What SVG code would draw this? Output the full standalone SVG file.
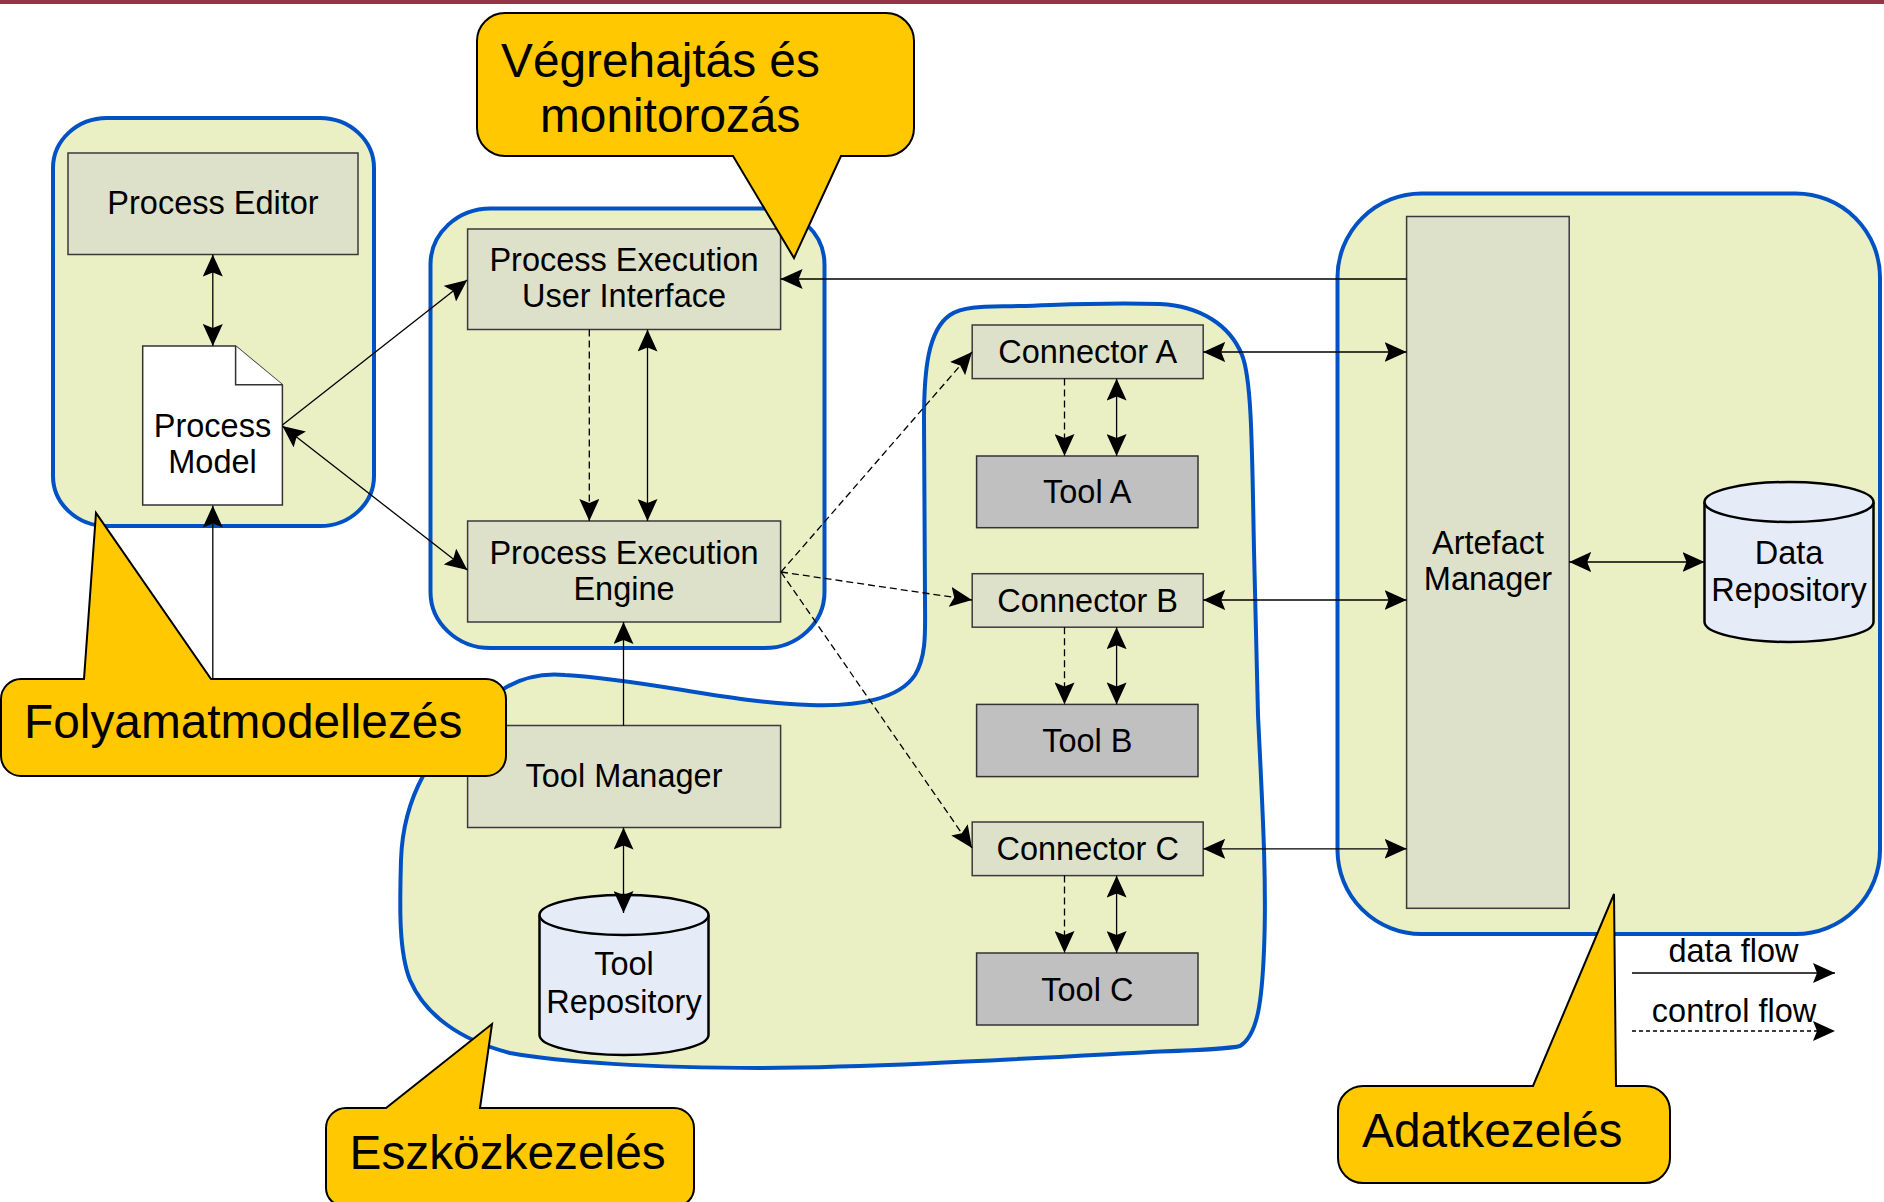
<svg xmlns="http://www.w3.org/2000/svg" width="1884" height="1202" viewBox="0 0 1884 1202">
<style>
.grp{fill:#EAF0C4;stroke:#0052C4;stroke-width:4}
.box{fill:#DDE1C9;stroke:#3A3A3A;stroke-width:1.5}
.tool{fill:#C0C0C0;stroke:#333;stroke-width:1.5}
.doc{fill:#FFFFFF;stroke:#333;stroke-width:1.5}
.cyl{fill:#E6ECF7;stroke:#000;stroke-width:2.5}
.call{fill:#FFC800;stroke:#000;stroke-width:2}
.t{font-family:"Liberation Sans",Arial,sans-serif;font-size:32.5px;fill:#000;text-anchor:middle}
.ct{font-family:"Liberation Sans",Arial,sans-serif;font-size:47.8px;fill:#000}
.ln{fill:none;stroke:#000;stroke-width:1.3}
.ds{stroke-dasharray:7 4}
.lds{stroke-dasharray:4 3}
.b{marker-start:url(#ah);marker-end:url(#ah)}
.e{marker-end:url(#ah)}
</style>
<defs>
<marker id="ah" markerUnits="userSpaceOnUse" viewBox="0 0 22 20" refX="22" refY="10" markerWidth="22" markerHeight="20" orient="auto-start-reverse">
<path d="M0,0 L22,10 L0,20 L4,10 Z" fill="#000"/>
</marker>
</defs>
<rect x="0" y="0" width="1884" height="4" fill="#943446"/>

<!-- area groups -->
<g id="area-modelling"><rect class="grp" x="53" y="118" width="321" height="408" rx="54" ry="50"/></g>
<g id="area-execution"><rect class="grp" x="430.5" y="208.5" width="394" height="439.5" rx="60" ry="56"/></g>
<g id="area-tools"><path class="grp" d="M 505,688 C 525,676 545,673 565,675 C 650,680 730,703 810,705 C 860,707 900,698 915,675 C 927,655 925,630 925,600 L 924,420 C 924,370 928,330 950,315 C 965,305 990,307 1020,306 C 1060,305 1100,302 1160,304 C 1200,306 1230,325 1242,355 C 1252,380 1252,450 1254,550 L 1258,715 C 1262,800 1267,880 1264,950 C 1262,1000 1258,1035 1240,1046 C 1230,1049 1200,1050 1150,1052 C 1000,1060 880,1067 760,1068 C 650,1068 560,1062 510,1053 C 460,1040 425,1015 410,980 C 398,950 400,900 401,860 C 402,830 410,800 423,776 C 440,730 475,700 505,688 Z"/></g>
<g id="area-data"><rect class="grp" x="1337.5" y="193.5" width="542.5" height="740.5" rx="84" ry="84"/></g>

<!-- nodes -->
<g id="process-editor"><rect class="box" x="68" y="153" width="290" height="101.5"/><text class="t" x="213" y="214">Process Editor</text></g>
<g id="process-model"><path class="doc" d="M142.7,346 H235.6 L282.4,384.8 V505 H142.7 Z"/><path class="doc" d="M235.6,346 V384.8 H282.4" fill="none"/><text class="t" x="212.5" y="436.5">Process</text><text class="t" x="212.5" y="473">Model</text></g>
<g id="pe-ui"><rect class="box" x="467.6" y="229" width="313" height="100.5"/><text class="t" x="624" y="270.5">Process Execution</text><text class="t" x="624" y="307">User Interface</text></g>
<g id="pe-engine"><rect class="box" x="467.6" y="521" width="313" height="101"/><text class="t" x="624" y="563.5">Process Execution</text><text class="t" x="624" y="599.5">Engine</text></g>
<g id="tool-manager"><rect class="box" x="467.6" y="725.5" width="313" height="102"/><text class="t" x="624" y="787">Tool Manager</text></g>
<g id="tool-repository"><path class="cyl" d="M539.5,915 V1035 A84.5 20 0 0 0 708.5,1035 V915 A84.5 20 0 0 0 539.5,915 Z"/><path class="cyl" d="M539.5,915 A84.5 20 0 0 0 708.5,915" fill="none"/><text class="t" x="624" y="974.5">Tool</text><text class="t" x="624" y="1012.5">Repository</text></g>
<g id="connector-a"><rect class="box" x="972.2" y="325" width="231" height="53.6"/><text class="t" x="1087.7" y="362.5">Connector A</text></g>
<g id="tool-a"><rect class="tool" x="976.6" y="456" width="221.4" height="71.7"/><text class="t" x="1087.3" y="502.5">Tool A</text></g>
<g id="connector-b"><rect class="box" x="972.2" y="573.7" width="231" height="53.5"/><text class="t" x="1087.7" y="611.5">Connector B</text></g>
<g id="tool-b"><rect class="tool" x="976.6" y="704.4" width="221.4" height="72.2"/><text class="t" x="1087.3" y="751.5">Tool B</text></g>
<g id="connector-c"><rect class="box" x="972.2" y="822" width="231" height="53.6"/><text class="t" x="1087.7" y="860">Connector C</text></g>
<g id="tool-c"><rect class="tool" x="976.6" y="953" width="221.4" height="72"/><text class="t" x="1087.3" y="1000.5">Tool C</text></g>
<g id="artefact-manager"><rect class="box" x="1406.6" y="216.5" width="162.6" height="691.8"/><text class="t" x="1488" y="553.5">Artefact</text><text class="t" x="1488" y="590">Manager</text></g>
<g id="data-repository"><path class="cyl" d="M1704.5,502 V622 A84.5 20 0 0 0 1873.5,622 V502 A84.5 20 0 0 0 1704.5,502 Z"/><path class="cyl" d="M1704.5,502 A84.5 20 0 0 0 1873.5,502" fill="none"/><text class="t" x="1789" y="563.5">Data</text><text class="t" x="1789" y="600.5">Repository</text></g>

<!-- connectors -->
<g id="connectors">
<line class="ln b" x1="212.8" y1="254.5" x2="212.8" y2="346"/>
<line class="ln e" x1="282.4" y1="425" x2="467.2" y2="280"/>
<line class="ln b" x1="282.4" y1="426" x2="467.4" y2="570"/>
<line class="ln b" x1="647.5" y1="329.5" x2="647.5" y2="521"/>
<line class="ln ds e" x1="589.3" y1="329.5" x2="589.3" y2="521"/>
<line class="ln e" x1="1406.6" y1="279" x2="780.6" y2="279"/>
<line class="ln ds e" x1="781" y1="572" x2="972" y2="352"/>
<line class="ln ds e" x1="781" y1="572" x2="972" y2="600"/>
<line class="ln ds e" x1="781" y1="572" x2="972" y2="848"/>
<line class="ln b" x1="1203.2" y1="352" x2="1406.6" y2="352"/>
<line class="ln b" x1="1203.2" y1="600" x2="1406.6" y2="600"/>
<line class="ln b" x1="1203.2" y1="848.8" x2="1406.6" y2="848.8"/>
<line class="ln ds e" x1="1064.5" y1="378.6" x2="1064.5" y2="456"/>
<line class="ln b" x1="1116.6" y1="378.6" x2="1116.6" y2="456"/>
<line class="ln ds e" x1="1064.5" y1="627.2" x2="1064.5" y2="704.4"/>
<line class="ln b" x1="1116.6" y1="627.2" x2="1116.6" y2="704.4"/>
<line class="ln ds e" x1="1064.5" y1="875.6" x2="1064.5" y2="953"/>
<line class="ln b" x1="1116.6" y1="875.6" x2="1116.6" y2="953"/>
<line class="ln b" x1="1569.2" y1="562" x2="1704.5" y2="562"/>
<line class="ln e" x1="623.5" y1="725.5" x2="623.5" y2="622"/>
<line class="ln b" x1="623.5" y1="827.5" x2="623.5" y2="913"/>
<line class="ln e" x1="212.8" y1="679" x2="212.8" y2="505.5"/>
<line class="ln e" x1="1632" y1="973" x2="1835" y2="973"/>
<line class="ln lds e" x1="1632" y1="1031" x2="1835" y2="1031"/>
</g>

<!-- legend -->
<g id="legend">
<text class="t" x="1733.5" y="961.5">data flow</text>
<text class="t" x="1734" y="1021.5">control flow</text>
</g>

<!-- callouts -->
<g id="callout-vegrehajtas"><path class="call" d="M505,13 H886 A28 28 0 0 1 914,41 V128 A28 28 0 0 1 886,156 H841 L794,258 L733,156 H505 A28 28 0 0 1 477,128 V41 A28 28 0 0 1 505,13 Z"/><text class="ct" x="501" y="76.5">Végrehajtás és</text><text class="ct" x="540" y="132">monitorozás</text></g>
<g id="callout-folyamat"><path class="call" d="M21,679 H84 L96,513 L211,679 H486 A20 20 0 0 1 506,699 V756 A20 20 0 0 1 486,776 H21 A20 20 0 0 1 1,756 V699 A20 20 0 0 1 21,679 Z"/><text class="ct" x="24" y="738">Folyamatmodellezés</text></g>
<g id="callout-eszkoz"><path class="call" d="M346,1108 H386 L492,1024 L480,1108 H674 A20 20 0 0 1 694,1128 V1188 A18 18 0 0 1 676,1206 H344 A18 18 0 0 1 326,1188 V1128 A20 20 0 0 1 346,1108 Z"/><text class="ct" x="349.5" y="1168.5">Eszközkezelés</text></g>
<g id="callout-adat"><path class="call" d="M1363,1086 H1533 L1614,894 L1616,1086 H1645 A25 25 0 0 1 1670,1111 V1158 A25 25 0 0 1 1645,1183 H1363 A25 25 0 0 1 1338,1158 V1111 A25 25 0 0 1 1363,1086 Z"/><text class="ct" x="1362" y="1147">Adatkezelés</text></g>
</svg>
